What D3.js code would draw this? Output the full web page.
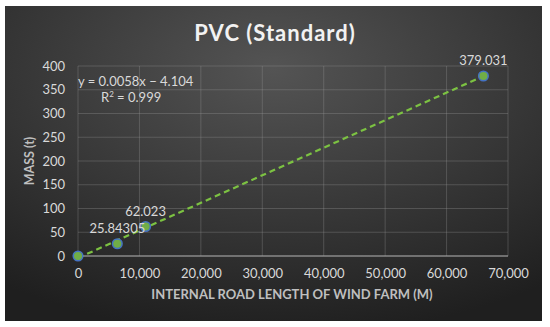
<!DOCTYPE html>
<html>
<head>
<meta charset="utf-8">
<script src="https://cdn.jsdelivr.net/npm/d3@7"></script>
<style>
  body { margin: 0; background: #fff; }
  text { font-family: Lato, "Open Sans", sans-serif; }
</style>
</head>
<body>
<div id="chart"></div>
<script>
// Data
const lengths = [0, 6400, 11000, 66000];
const masses = [0, 25.84305, 62.023, 379.031];
const pointLabels = ["", "25.84305", "62.023", "379.031"];
const xTicks = [0, 10000, 20000, 30000, 40000, 50000, 60000, 70000];
const yTicks = [0, 50, 100, 150, 200, 250, 300, 350, 400];
const slope = 0.0058, intercept = -4.104;

const W = 550, H = 327;
const svg = d3.select("#chart").append("svg")
  .attr("width", W).attr("height", H);

// background with radial gradient
const defs = svg.append("defs");
const grad = defs.append("radialGradient").attr("id", "bg")
  .attr("cx", "50%").attr("cy", "20%").attr("r", "85%");
grad.append("stop").attr("offset", "0%").attr("stop-color", "#545454");
grad.append("stop").attr("offset", "100%").attr("stop-color", "#1f1f1f");

svg.append("rect").attr("x", 5).attr("y", 6).attr("width", 537).attr("height", 315)
  .attr("fill", "url(#bg)");

const x = d3.scaleLinear().domain([0, 70000]).range([78, 508]);
const y = d3.scaleLinear().domain([0, 400]).range([256, 66]);

// grid
svg.append("g").selectAll("line").data(yTicks).join("line")
  .attr("x1", x(0)).attr("x2", x(70000))
  .attr("y1", d => y(d)).attr("y2", d => y(d))
  .attr("stroke", "#9a9a9a").attr("stroke-opacity", 0.4).attr("stroke-width", 0.8);
svg.append("g").selectAll("line").data(xTicks).join("line")
  .attr("y1", y(0)).attr("y2", y(400))
  .attr("x1", d => x(d)).attr("x2", d => x(d))
  .attr("stroke", "#9a9a9a").attr("stroke-opacity", 0.4).attr("stroke-width", 0.8);

// axis lines
svg.append("line").attr("x1", x(0)).attr("x2", x(70000)).attr("y1", y(0)).attr("y2", y(0))
  .attr("stroke", "#a6a6a6").attr("stroke-width", 1);

// tick labels
const xAxis = svg.append("g").attr("transform", `translate(0,${y(0) + 10})`)
  .call(d3.axisBottom(x).tickValues(xTicks).tickFormat(d3.format(",")).tickSize(0));
const yAxis = svg.append("g").attr("transform", `translate(${x(0) - 10},0)`)
  .call(d3.axisLeft(y).tickValues(yTicks).tickSize(0));
[xAxis, yAxis].forEach(a => {
  a.select(".domain").remove();
  a.selectAll("text").attr("fill", "#d9d9d9").attr("font-size", 13)
    .style("font-family", "Lato, 'Open Sans', sans-serif");
});

// trendline
const trendX = [0, 66000];
svg.append("line")
  .attr("x1", x(trendX[0])).attr("y1", y(slope * trendX[0] + intercept))
  .attr("x2", x(trendX[1])).attr("y2", y(slope * trendX[1] + intercept))
  .attr("stroke", "#7cc242").attr("stroke-width", 2.2).attr("stroke-dasharray", "6,4");

// points
const pts = lengths.map((d, i) => ({x: d, y: masses[i], label: pointLabels[i]}));
svg.append("g").selectAll("circle").data(pts).join("circle")
  .attr("cx", d => x(d.x)).attr("cy", d => y(d.y)).attr("r", 4.8)
  .attr("fill", "#70ad47").attr("stroke", "#4472c4").attr("stroke-width", 1.5);

svg.append("g").selectAll("text").data(pts).join("text")
  .attr("x", d => x(d.x)).attr("y", d => y(d.y) - 11)
  .attr("text-anchor", "middle").attr("fill", "#d9d9d9").attr("font-size", 13)
  .text(d => d.label);

// equation
svg.append("text").attr("x", 78).attr("y", 86).attr("fill", "#d9d9d9").attr("font-size", 13)
  .text("y = 0.0058x − 4.104");
const r2 = svg.append("text").attr("x", 101).attr("y", 102).attr("fill", "#d9d9d9").attr("font-size", 13);
r2.append("tspan").text("R");
r2.append("tspan").attr("font-size", 8).attr("dy", -5).text("2");
r2.append("tspan").attr("dy", 5).text(" = 0.999");

// title
svg.append("text").attr("x", 275).attr("y", 41).attr("text-anchor", "middle")
  .attr("fill", "#f2f2f2").attr("font-size", 22).attr("font-weight", "bold")
  .attr("letter-spacing", 1).text("PVC (Standard)");

// axis titles
svg.append("text").attr("x", 292).attr("y", 299).attr("text-anchor", "middle")
  .attr("fill", "#bfbfbf").attr("font-size", 13).attr("font-weight", "bold")
  .text("INTERNAL ROAD LENGTH OF WIND FARM (M)");
svg.append("text").attr("transform", `translate(34,${y(200)}) rotate(-90)`)
  .attr("text-anchor", "middle").attr("fill", "#bfbfbf").attr("font-size", 12.5)
  .attr("font-weight", "bold").text("MASS (t)");
</script>
</body>
</html>
